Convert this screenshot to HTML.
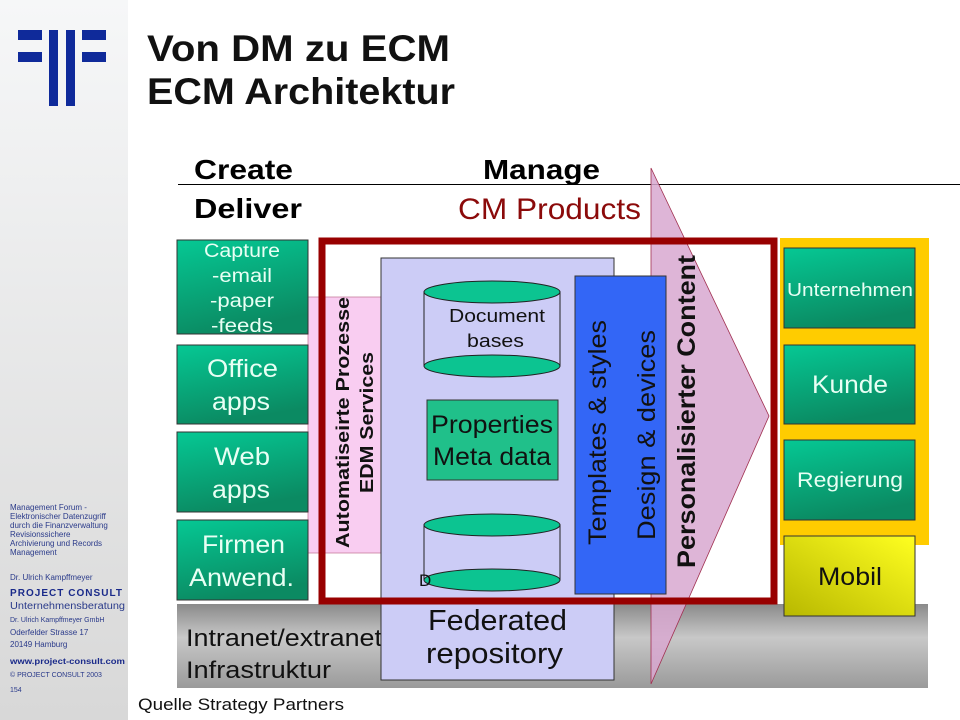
<!DOCTYPE html>
<html><head><meta charset="utf-8"><style>
html,body{margin:0;padding:0;background:#fff}
svg{display:block;font-family:"Liberation Sans",Arial,sans-serif}
</style></head><body>
<svg width="960" height="720" viewBox="0 0 960 720" xmlns="http://www.w3.org/2000/svg">
<defs>
<linearGradient id="side" x1="0" y1="0" x2="0" y2="1"><stop offset="0" stop-color="#f6f7f8"/><stop offset="1" stop-color="#d8d8d8"/></linearGradient>
<linearGradient id="grn" x1="0" y1="0" x2="0.3" y2="1"><stop offset="0" stop-color="#05c894"/><stop offset="1" stop-color="#0b8a62"/></linearGradient>
<linearGradient id="gray" x1="0" y1="0" x2="0" y2="1"><stop offset="0" stop-color="#8a8a8a"/><stop offset="0.4" stop-color="#c8c8c8"/><stop offset="1" stop-color="#9a9a9a"/></linearGradient>
<linearGradient id="yel" x1="0" y1="1" x2="1" y2="0"><stop offset="0" stop-color="#b8b800"/><stop offset="1" stop-color="#ffff20"/></linearGradient>
</defs>
<rect x="0" y="0" width="128" height="720" fill="url(#side)"/>
<g fill="#0f2a9a">
<rect x="18" y="30" width="24" height="10"/><rect x="18" y="52" width="24" height="10"/>
<rect x="49" y="30" width="9" height="76"/><rect x="66" y="30" width="9" height="76"/>
<rect x="82" y="30" width="24" height="10"/><rect x="82" y="52" width="24" height="10"/>
</g>
<g font-size="8" fill="#2a3a8a">
<text x="10" y="510">Management Forum -</text>
<text x="10" y="519">Elektronischer Datenzugriff</text>
<text x="10" y="528">durch die Finanzverwaltung</text>
<text x="10" y="537">Revisionssichere</text>
<text x="10" y="546">Archivierung und Records</text>
<text x="10" y="555">Management</text>
<text x="10" y="580">Dr. Ulrich Kampffmeyer</text>
<text x="10" y="609" font-size="10" textLength="115" lengthAdjust="spacingAndGlyphs">Unternehmensberatung</text>
<text x="10" y="622" font-size="7">Dr. Ulrich Kampffmeyer  GmbH</text>
<text x="10" y="635">Oderfelder Strasse 17</text>
<text x="10" y="647">20149 Hamburg</text>
<text x="10" y="677" font-size="7">© PROJECT CONSULT 2003</text>
<text x="10" y="692" font-size="7">154</text>
</g>
<text x="10" y="596" font-size="10" font-weight="bold" fill="#1a2a8a" textLength="112" lengthAdjust="spacing">PROJECT  CONSULT</text>
<text x="10" y="664" font-size="8.5" font-weight="bold" fill="#1a2a8a" textLength="115" lengthAdjust="spacingAndGlyphs">www.project-consult.com</text>

<text x="147" y="61" font-size="37" font-weight="bold" fill="#111" textLength="303" lengthAdjust="spacingAndGlyphs">Von DM zu ECM</text>
<text x="147" y="104" font-size="37" font-weight="bold" fill="#111" textLength="308" lengthAdjust="spacingAndGlyphs">ECM Architektur</text>

<text x="194" y="179" font-size="28" font-weight="bold" fill="#000" textLength="99" lengthAdjust="spacingAndGlyphs">Create</text>
<text x="483" y="179" font-size="28" font-weight="bold" fill="#000" textLength="117" lengthAdjust="spacingAndGlyphs">Manage</text>
<line x1="178" y1="184.5" x2="960" y2="184.5" stroke="#000" stroke-width="1"/>
<text x="194" y="218" font-size="28" font-weight="bold" fill="#000" textLength="108" lengthAdjust="spacingAndGlyphs">Deliver</text>
<text x="458" y="219" font-size="30" fill="#8b0a0a" textLength="183" lengthAdjust="spacingAndGlyphs">CM Products</text>

<rect x="177" y="604" width="751" height="84" fill="url(#gray)"/>
<text x="186" y="646" font-size="24" fill="#111" textLength="196" lengthAdjust="spacingAndGlyphs">Intranet/extranet</text>
<text x="186" y="678" font-size="24" fill="#111" textLength="145" lengthAdjust="spacingAndGlyphs">Infrastruktur</text>

<rect x="308" y="297" width="74" height="256" fill="#f9cdf1" stroke="#c07090" stroke-width="0.7"/>

<g stroke="#333" stroke-width="1" fill="url(#grn)">
<rect x="177" y="240" width="131" height="94"/>
<rect x="177" y="345" width="131" height="79"/>
<rect x="177" y="432" width="131" height="80"/>
<rect x="177" y="520" width="131" height="80"/>
</g>
<g fill="#e8fff4" font-size="19" lengthAdjust="spacingAndGlyphs">
<text x="204" y="257" textLength="76" lengthAdjust="spacingAndGlyphs">Capture</text>
<text x="212" y="282" textLength="60" lengthAdjust="spacingAndGlyphs">-email</text>
<text x="210" y="307" textLength="64" lengthAdjust="spacingAndGlyphs">-paper</text>
<text x="211" y="332" textLength="62" lengthAdjust="spacingAndGlyphs">-feeds</text>
</g>
<g fill="#e8fff4" font-size="25">
<text x="207" y="377" textLength="71" lengthAdjust="spacingAndGlyphs">Office</text>
<text x="212" y="410" textLength="58" lengthAdjust="spacingAndGlyphs">apps</text>
<text x="214" y="465" textLength="56" lengthAdjust="spacingAndGlyphs">Web</text>
<text x="212" y="498" textLength="58" lengthAdjust="spacingAndGlyphs">apps</text>
<text x="202" y="553" textLength="83" lengthAdjust="spacingAndGlyphs">Firmen</text>
<text x="189" y="586" textLength="105" lengthAdjust="spacingAndGlyphs">Anwend.</text>
</g>

<rect x="780" y="238" width="149" height="307" fill="#ffcc00"/>
<g stroke="#333" stroke-width="1" fill="url(#grn)">
<rect x="784" y="248" width="131" height="80"/>
<rect x="784" y="345" width="131" height="79"/>
<rect x="784" y="440" width="131" height="80"/>
</g>
<rect x="784" y="536" width="131" height="80" fill="url(#yel)" stroke="#333"/>
<g fill="#e8fff4">
<text x="787" y="296" font-size="18" textLength="126" lengthAdjust="spacingAndGlyphs">Unternehmen</text>
<text x="812" y="393" font-size="25" textLength="76" lengthAdjust="spacingAndGlyphs">Kunde</text>
<text x="797" y="487" font-size="21" textLength="106" lengthAdjust="spacingAndGlyphs">Regierung</text>
</g>
<text x="818" y="585" font-size="25" fill="#111" textLength="64" lengthAdjust="spacingAndGlyphs">Mobil</text>

<rect x="381" y="258" width="233" height="422" fill="#ccccf6" stroke="#333" stroke-width="1"/>
<rect x="424" y="292" width="136" height="74" fill="#ccccf6" stroke="#222"/>
<ellipse cx="492" cy="366" rx="68" ry="11" fill="#0cc491" stroke="#222"/>
<ellipse cx="492" cy="292" rx="68" ry="11" fill="#0cc491" stroke="#222"/>
<text x="449" y="322" font-size="18" fill="#111" textLength="96" lengthAdjust="spacingAndGlyphs">Document</text>
<text x="467" y="347" font-size="18" fill="#111" textLength="57" lengthAdjust="spacingAndGlyphs">bases</text>
<rect x="427" y="400" width="131" height="80" fill="#20c08a" stroke="#333"/>
<text x="431" y="433" font-size="25" fill="#111" textLength="122" lengthAdjust="spacingAndGlyphs">Properties</text>
<text x="433" y="465" font-size="25" fill="#111" textLength="118" lengthAdjust="spacingAndGlyphs">Meta data</text>
<rect x="424" y="525" width="136" height="55" fill="#ccccf6" stroke="#222"/>
<ellipse cx="492" cy="580" rx="68" ry="11" fill="#0cc491" stroke="#222"/>
<ellipse cx="492" cy="525" rx="68" ry="11" fill="#0cc491" stroke="#222"/>
<text x="419" y="586" font-size="17" fill="#111">D</text>
<text x="428" y="630" font-size="29" fill="#111" textLength="139" lengthAdjust="spacingAndGlyphs">Federated</text>
<text x="426" y="663" font-size="29" fill="#111" textLength="137" lengthAdjust="spacingAndGlyphs">repository</text>

<polygon points="651,168 769,416 651,684" fill="#d8a8d0" fill-opacity="0.85" stroke="#a03050" stroke-width="0.8"/>

<rect x="575" y="276" width="91" height="318" fill="#3366f6" stroke="#333"/>
<text transform="translate(606,545) rotate(-90)" font-size="25" fill="#111" textLength="225" lengthAdjust="spacingAndGlyphs">Templates &amp; styles</text>
<text transform="translate(655,540) rotate(-90)" font-size="25" fill="#111" textLength="210" lengthAdjust="spacingAndGlyphs">Design &amp; devices</text>

<text transform="translate(695,568) rotate(-90)" font-size="25" font-weight="bold" fill="#111" textLength="313" lengthAdjust="spacingAndGlyphs">Personalisierter Content</text>

<text transform="translate(349,548) rotate(-90)" font-size="18" font-weight="bold" fill="#111" textLength="251" lengthAdjust="spacingAndGlyphs">Automatiseirte Prozesse</text>
<text transform="translate(373,493) rotate(-90)" font-size="18" font-weight="bold" fill="#111" textLength="141" lengthAdjust="spacingAndGlyphs">EDM Services</text>

<rect x="322" y="241" width="452" height="360" fill="none" stroke="#980000" stroke-width="7"/>

<text x="138" y="710" font-size="17" fill="#111" textLength="206" lengthAdjust="spacingAndGlyphs">Quelle Strategy Partners</text>
</svg>
</body></html>
